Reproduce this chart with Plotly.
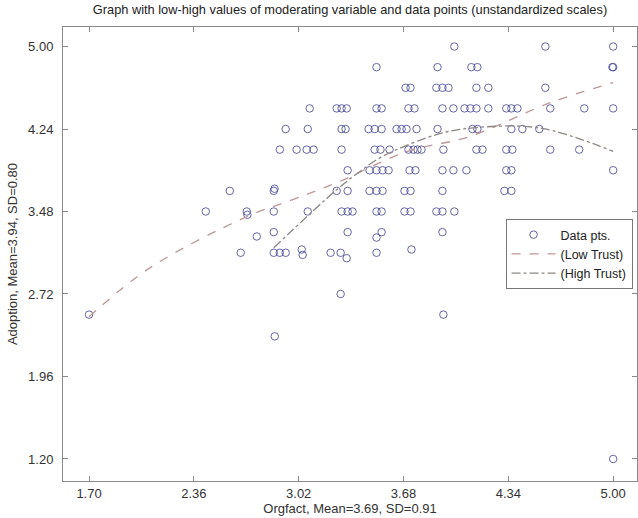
import plotly.graph_objects as go

# ---- data ----
pts_x = [
    # 5.00 row
    4.000, 4.573, 5.000,
    # 4.81 row
    3.510, 3.894, 4.107, 4.145, 4.995, 5.000,
    # 4.62 row
    3.693, 3.724, 3.887, 3.925, 3.963, 4.139, 4.214, 4.573,
    # 4.43 row
    3.089, 3.259, 3.290, 3.322, 3.510, 3.542, 3.711, 3.749, 3.925, 3.994,
    4.064, 4.101, 4.139, 4.214, 4.327, 4.359, 4.397, 4.604, 4.818, 5.000,
    # 4.24 row
    2.938, 3.077, 3.290, 3.315, 3.460, 3.498, 3.542, 3.636, 3.668, 3.699,
    3.762, 3.894, 4.114, 4.145, 4.359, 4.428, 4.535,
    # 4.05 row
    2.901, 3.007, 3.070, 3.114, 3.290, 3.498, 3.535, 3.592, 3.711, 3.743,
    3.768, 3.793, 3.931, 4.139, 4.177, 4.327, 4.365, 4.604, 4.786,
    # 3.86 row
    3.328, 3.466, 3.510, 3.548, 3.586, 3.718, 3.755, 3.925, 3.994, 4.076,
    4.327, 4.359, 5.000,
    # 3.67 row
    2.586, 2.863, 2.868, 3.259, 3.328, 3.466, 3.510, 3.548, 3.686, 3.724,
    3.925, 4.315, 4.359,
    # 3.48 row
    2.435, 2.693, 2.697, 2.863, 3.077, 3.290, 3.328, 3.359, 3.510, 3.542,
    3.686, 3.724, 3.887, 3.925, 4.000,
    # 3.29 row
    2.756, 2.863, 3.328, 3.510, 3.542, 3.925,
    # 3.10 row
    2.655, 2.863, 2.901, 2.938, 3.039, 3.045, 3.221, 3.284, 3.322, 3.510, 3.730,
    # low outliers
    1.700, 2.869, 3.284, 3.931, 5.000,
]
pts_y = [
    5.00, 5.00, 5.00,
    4.81, 4.81, 4.81, 4.81, 4.81, 4.81,
    4.62, 4.62, 4.62, 4.62, 4.62, 4.62, 4.62, 4.62,
    4.43, 4.43, 4.43, 4.43, 4.43, 4.43, 4.43, 4.43, 4.43, 4.43,
    4.43, 4.43, 4.43, 4.43, 4.43, 4.43, 4.43, 4.43, 4.43, 4.43,
    4.24, 4.24, 4.24, 4.24, 4.24, 4.24, 4.24, 4.24, 4.24, 4.24,
    4.24, 4.24, 4.24, 4.24, 4.24, 4.24, 4.24,
    4.05, 4.05, 4.05, 4.05, 4.05, 4.05, 4.05, 4.05, 4.05, 4.05,
    4.05, 4.05, 4.05, 4.05, 4.05, 4.05, 4.05, 4.05, 4.05,
    3.86, 3.86, 3.86, 3.86, 3.86, 3.86, 3.86, 3.86, 3.86, 3.86,
    3.86, 3.86, 3.86,
    3.67, 3.67, 3.69, 3.67, 3.67, 3.67, 3.67, 3.67, 3.67, 3.67,
    3.67, 3.67, 3.67,
    3.48, 3.48, 3.45, 3.48, 3.48, 3.48, 3.48, 3.48, 3.48, 3.48,
    3.48, 3.48, 3.48, 3.48, 3.48,
    3.25, 3.29, 3.29, 3.24, 3.29, 3.29,
    3.10, 3.10, 3.10, 3.10, 3.13, 3.08, 3.10, 3.10, 3.05, 3.10, 3.13,
    2.53, 2.33, 2.72, 2.53, 1.20,
]

low_x = [1.700, 2.083, 2.693, 2.982, 3.259, 3.699, 4.095, 4.604, 5.000]
low_y = [2.510, 2.961, 3.432, 3.589, 3.745, 4.031, 4.170, 4.483, 4.668]

high_x = [2.863, 3.259, 3.404, 3.548, 3.887, 4.114, 4.535, 5.000]
high_y = [3.146, 3.681, 3.847, 3.988, 4.188, 4.250, 4.250, 4.034]

x_ticks = [1.70, 2.36, 3.02, 3.68, 4.34, 5.00]
y_ticks = [1.20, 1.96, 2.72, 3.48, 4.24, 5.00]

title_text = "Graph with low-high values of moderating variable and data points (unstandardized scales)"
x_title = "Orgfact, Mean=3.69, SD=0.91"
y_title = "Adoption, Mean=3.94, SD=0.80"

FONT = "Liberation Sans, Arial, sans-serif"

fig = go.Figure()
fig.add_trace(go.Scatter(
    x=pts_x, y=pts_y, mode="markers", name="Data pts.",
    marker=dict(symbol="circle-open", size=7.5, color="rgba(75,75,150,0.85)",
                line=dict(width=1)),
))
fig.add_trace(go.Scatter(
    x=low_x, y=low_y, mode="lines", name="(Low Trust)",
    line=dict(color="rgb(190,150,150)", width=1.3, dash="dash", shape="spline"),
))
fig.add_trace(go.Scatter(
    x=high_x, y=high_y, mode="lines", name="(High Trust)",
    line=dict(color="rgb(140,135,130)", width=1.3, dash="dashdot", shape="spline"),
))

axis_common = dict(
    showline=True, linecolor="#8a8a8a", linewidth=1, mirror="allticks",
    ticks="inside", ticklen=5, tickcolor="#8a8a8a", showgrid=False, zeroline=False,
    tickfont=dict(family=FONT, size=13, color="#333333"),
)

fig.update_layout(
    width=638, height=518,
    margin=dict(l=63, r=1, t=27, b=37, autoexpand=False),
    paper_bgcolor="white", plot_bgcolor="white",
    title=dict(text=title_text, x=0.5, xref="paper", xanchor="center", y=1 - 10 / 518,
               yanchor="middle", yref="container",
               font=dict(family=FONT, size=12.8, color="#222222")),
    xaxis=dict(range=[1.536, 5.15], tickvals=x_ticks, ticktext=[f"{v:.2f}" for v in x_ticks],
               title=dict(text=x_title, font=dict(family=FONT, size=13, color="#333333"), standoff=3),
               **axis_common),
    yaxis=dict(range=[0.997, 5.18], tickvals=y_ticks, ticktext=[f"{v:.2f}" for v in y_ticks],
               ticklabelstandoff=6,
               title=dict(text=y_title, font=dict(family=FONT, size=13, color="#333333"), standoff=7),
               **axis_common),
    legend=dict(x=0.771, y=0.577, xanchor="left", yanchor="top",
                bordercolor="#777777", borderwidth=1, bgcolor="white",
                font=dict(family=FONT, size=12.5, color="#222222"), tracegroupgap=0,
                itemwidth=44),
    showlegend=True,
)

fig.write_html("out.html", config={"displayModeBar": False},
               post_script="document.body.style.margin='0';")
